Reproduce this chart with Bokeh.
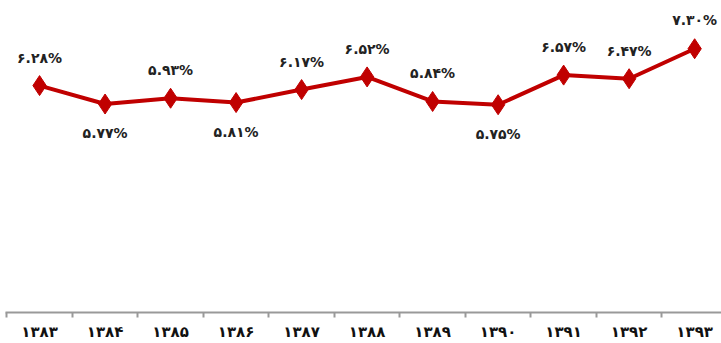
from bokeh.plotting import figure
from bokeh.models import ColumnDataSource, FixedTicker, Range1d
from bokeh.core.properties import value
from bokeh.embed import file_html
from bokeh.resources import INLINE

years = ["۱۳۸۳", "۱۳۸۴", "۱۳۸۵", "۱۳۸۶", "۱۳۸۷", "۱۳۸۸", "۱۳۸۹", "۱۳۹۰", "۱۳۹۱", "۱۳۹۲", "۱۳۹۳"]
rates = [6.28, 5.77, 5.93, 5.81, 6.17, 6.52, 5.84, 5.75, 6.57, 6.47, 7.30]

# label placement (style): pixel offset of each value label from its point
label_offsets = [-28, 29, -28, 29, -28, -28, -28, 29, -28, -28, -29]

fa = str.maketrans("0123456789", "۰۱۲۳۴۵۶۷۸۹")
labels = [("%.2f" % v).translate(fa) + "%" for v in rates]
xs = list(range(len(years)))

src = ColumnDataSource(dict(x=xs, y=rates, lab=labels, off=label_offsets))

p = figure(width=721, height=343, output_backend="svg", toolbar_location=None,
           x_range=Range1d(-0.52, 10.41), y_range=Range1d(0, 8.635),
           min_border_left=5, min_border_right=0, min_border_top=0, min_border_bottom=31)
p.outline_line_color = None
p.xgrid.visible = False
p.ygrid.visible = False
p.yaxis.visible = False
p.background_fill_color = "white"
p.border_fill_color = "white"

p.line("x", "y", source=src, line_color="#C00000", line_width=4)
p.scatter("x", "y", source=src, marker="diamond", size=20, fill_color="#C00000",
          line_color="#C00000")
p.text("x", "y", text="lab", source=src, y_offset="off", text_align="center",
       text_baseline="middle", text_font=value("DejaVu Sans"), text_font_style="bold",
       text_font_size="14px", text_color="#222222")

ax = p.xaxis[0]
ax.ticker = FixedTicker(ticks=xs, minor_ticks=[i - 0.5 for i in range(len(years) + 1)])
ax.major_label_overrides = {i: y for i, y in enumerate(years)}
ax.major_tick_out = 0
ax.major_tick_in = 0
ax.minor_tick_out = 5
ax.minor_tick_in = 0
ax.minor_tick_line_color = "#999999"
ax.minor_tick_line_width = 2
ax.axis_line_color = "#999999"
ax.axis_line_width = 2
ax.major_label_text_font = "DejaVu Sans"
ax.major_label_text_font_style = "bold"
ax.major_label_text_font_size = "15px"
ax.major_label_text_color = "#111111"
ax.major_label_standoff = 5

open("out.html", "w").write(file_html(p, INLINE))
